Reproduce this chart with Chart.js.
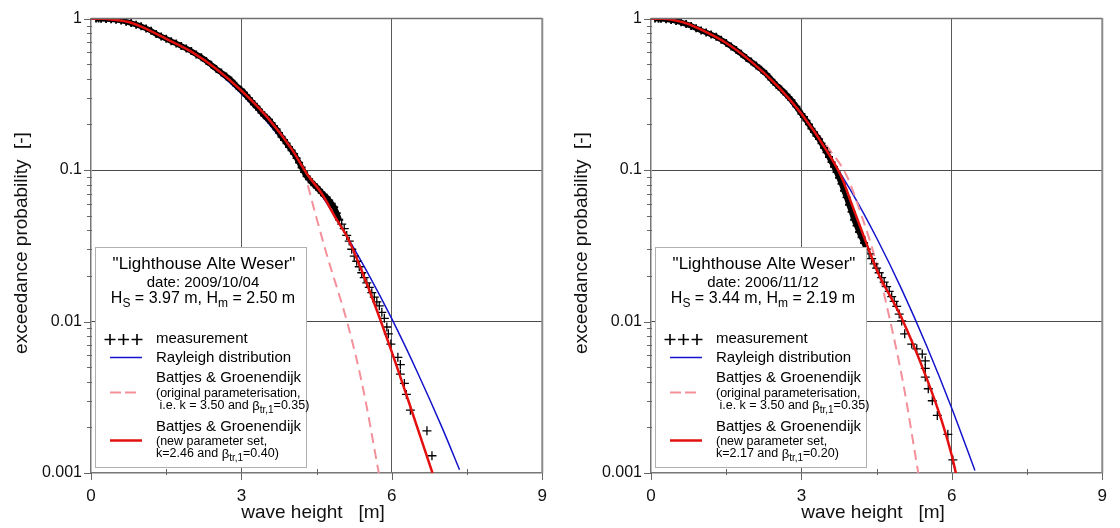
<!DOCTYPE html>
<html><head><meta charset="utf-8">
<script src="https://cdn.jsdelivr.net/npm/chart.js@4.4.1/dist/chart.umd.min.js"></script>
<style>
html,body{margin:0;padding:0;background:#fff;}
#wrap{display:flex;width:1120px;height:528px;}
.cell{width:560px;height:528px;position:relative;}
canvas{display:block;}
</style></head><body>
<div id="wrap"><div class="cell"><canvas id="c1" width="560" height="528"></canvas></div><div class="cell"><canvas id="c2" width="560" height="528"></canvas></div></div>
<script>
const FONT = "'Liberation Sans', Arial, sans-serif";

// ---- axis ticks ----
const xTickValues = [0, 3, 6, 9];
const xTickLabels = ['0', '3', '6', '9'];
const xMinorTicks = [1.5, 4.5, 7.5];
const yTickValues = [0.001, 0.01, 0.1, 1];
const yTickLabels = ['0.001', '0.01', '0.1', '1'];
const yMinorTicks = [0.002,0.003,0.004,0.005,0.006,0.007,0.008,0.009,0.02,0.03,0.04,0.05,0.06,0.07,0.08,0.09,0.2,0.3,0.4,0.5,0.6,0.7,0.8,0.9];
const xTitle = 'wave height   [m]';
const yTitle = 'exceedance probability  [-]';

// ---- panel texts ----
const panelStation = ['"Lighthouse Alte Weser"', '"Lighthouse Alte Weser"'];
const panelDate = ['date: 2009/10/04', 'date: 2006/11/12'];
const panelHs = ['3.97', '3.44'];
const panelHm = ['2.50', '2.19'];
const panelK = ['2.46', '2.17'];
const panelBeta = ['0.40', '0.20'];
const origK = '3.50';
const origBeta = '0.35';

// ---- left panel (2009/10/04) ----
const leftMeasH = [0.10,0.15,0.20,0.30,0.40,0.50,0.60,0.70,0.80,0.90,1.00,1.10,1.20,1.30,1.40,1.50,1.60,1.70,1.80,1.90,2.00,2.10,2.20,2.30,2.40,2.50,2.60,2.70,2.80,2.90,3.00,3.05,3.10,3.15,3.20,3.25,3.30,3.35,3.40,3.45,3.50,3.55,3.60,3.65,3.70,3.75,3.80,3.85,3.90,3.95,4.00,4.05,4.10,4.15,4.20,4.25,4.30,4.35,4.40,4.45,4.50,4.55,4.60,4.65,4.70,4.75,4.80,4.85,4.90,4.95];
const leftMeasP = [1.0,1.0,0.998,0.995,0.99,0.983,0.972,0.955,0.935,0.912,0.89,0.86,0.83,0.79,0.762,0.735,0.71,0.685,0.66,0.635,0.61,0.58,0.555,0.525,0.495,0.465,0.44,0.415,0.39,0.36,0.336,0.325,0.31,0.298,0.285,0.272,0.262,0.251,0.24,0.23,0.222,0.215,0.205,0.195,0.186,0.176,0.166,0.158,0.15,0.142,0.135,0.128,0.12,0.112,0.104,0.097,0.091,0.087,0.083,0.08,0.077,0.074,0.071,0.068,0.066,0.063,0.06,0.057,0.052,0.047];
const leftTailH = [5.00,5.05,5.10,5.15,5.20,5.25,5.30,5.35,5.40,5.45,5.50,5.55,5.60,5.65,5.70,5.75,5.80,5.85,5.90,5.93,5.98,6.12,6.17,6.17,6.25,6.29,6.37,6.70,6.80];
const leftTailP = [0.044,0.041,0.037,0.034,0.030,0.027,0.025,0.023,0.021,0.0195,0.018,0.0168,0.0155,0.0145,0.0135,0.0127,0.0115,0.0105,0.0092,0.0083,0.0071,0.0058,0.0052,0.0045,0.0039,0.0033,0.0026,0.0019,0.0013];
const leftRayH = [0,0.5,1,1.5,2,2.5,3,3.5,4,4.5,5,5.5,6,6.5,7,7.35];
const leftRayP = [1,0.969,0.881,0.752,0.602,0.452,0.319,0.211,0.131,0.0766,0.0419,0.0215,0.0104,0.0047,0.002,0.00105];
const leftOrigH = [0,0.25,0.5,0.75,1,1.5,2,2.5,3,3.5,4,4.24,4.47,4.7,5.12,5.42,5.74];
const leftOrigP = [1,0.997,0.98,0.95,0.885,0.735,0.605,0.465,0.335,0.226,0.136,0.098,0.052,0.0278,0.0096,0.0037,0.001];
const leftNewH = [0,0.25,0.5,0.75,1,1.5,2,2.5,3,3.5,4,4.3,4.6,4.9,5.12,5.48,5.97,6.33,6.81];
const leftNewP = [1,0.997,0.98,0.95,0.885,0.735,0.605,0.465,0.335,0.226,0.138,0.095,0.07,0.047,0.0356,0.0185,0.0067,0.003,0.001];

// ---- right panel (2006/11/12) ----
const rightMeasH = [0.08,0.15,0.20,0.30,0.40,0.50,0.60,0.70,0.80,0.90,1.00,1.10,1.20,1.30,1.40,1.50,1.60,1.70,1.80,1.90,2.00,2.10,2.20,2.30,2.40,2.50,2.60,2.70,2.80,2.90,3.00,3.05,3.10,3.15,3.20,3.25,3.30,3.35,3.40,3.45,3.50,3.55,3.60,3.65,3.70,3.75,3.80,3.85,3.90,3.95,4.00,4.05,4.10,4.15,4.20,4.25,4.30];
const rightMeasP = [1.0,0.998,0.996,0.99,0.98,0.965,0.945,0.92,0.895,0.865,0.835,0.81,0.785,0.76,0.725,0.69,0.655,0.62,0.585,0.55,0.52,0.49,0.46,0.43,0.395,0.365,0.34,0.315,0.29,0.262,0.235,0.224,0.212,0.2,0.188,0.178,0.168,0.16,0.15,0.14,0.131,0.122,0.113,0.105,0.097,0.089,0.081,0.073,0.066,0.059,0.053,0.047,0.043,0.039,0.036,0.033,0.03];
const rightTailH = [4.35,4.40,4.45,4.50,4.55,4.60,4.65,4.70,4.75,4.80,4.85,4.90,4.95,5.00,5.06,5.20,5.30,5.41,5.47,5.47,5.47,5.53,5.61,5.71,5.92,6.02];
const rightTailP = [0.028,0.026,0.024,0.0225,0.021,0.0195,0.0182,0.017,0.0158,0.0146,0.0136,0.0126,0.0112,0.0101,0.0083,0.0071,0.0066,0.0061,0.0055,0.0049,0.0043,0.0036,0.0030,0.0024,0.0018,0.00122];
const rightRayH = [0,0.5,1,1.5,2,2.5,3,3.5,4,4.5,5,5.5,6,6.46];
const rightRayP = [1,0.96,0.848,0.69,0.518,0.357,0.227,0.133,0.0718,0.0356,0.0163,0.00687,0.00267,0.00104];
const rightOrigH = [0,0.25,0.5,0.75,1,1.5,2,2.5,3,3.5,3.9,4.2,4.5,4.77,5.03,5.33];
const rightOrigP = [1,0.996,0.97,0.92,0.845,0.69,0.52,0.365,0.24,0.145,0.092,0.05,0.024,0.0101,0.0039,0.001];
const rightNewH = [0,0.25,0.5,0.75,1,1.5,2,2.5,3,3.5,3.8,4.0,4.2,4.5,5.0,5.5,5.8,6.0,6.08];
const rightNewP = [1,0.996,0.97,0.92,0.845,0.69,0.52,0.365,0.235,0.135,0.09,0.06,0.04,0.022,0.0105,0.0042,0.0022,0.0013,0.001];

const pts = (hs, ps) => hs.map((h, i) => ({x: h, y: ps[i]}));

const COL_BLUE = '#1414cc';
const COL_PINK = '#f4909a';
const COL_RED = '#e31010';

function rich(ctx, parts, x, y, align) {
  let total = 0;
  parts.forEach(p => { ctx.font = p.s + 'px ' + FONT; p.w = ctx.measureText(p.t).width; total += p.w; });
  let cx = align === 'center' ? x - total / 2 : x;
  ctx.textAlign = 'left';
  parts.forEach(p => { ctx.font = p.s + 'px ' + FONT; ctx.fillText(p.t, cx, y + (p.dy || 0)); cx += p.w; });
}

function drawBox(ctx, i) {
  const bx = 95.5, by = 247.5, bw = 211, bh = 220;
  ctx.fillStyle = '#fff'; ctx.fillRect(bx, by, bw, bh);
  ctx.strokeStyle = '#b0b0b0'; ctx.lineWidth = 1; ctx.setLineDash([]); ctx.strokeRect(bx, by, bw, bh);
  ctx.fillStyle = '#000'; ctx.textBaseline = 'middle';
  ctx.textAlign = 'center';
  ctx.font = '17px ' + FONT; ctx.fillText(panelStation[i], 204, 264);
  ctx.font = '15px ' + FONT; ctx.fillText(panelDate[i], 203, 283);
  rich(ctx, [{t:'H', s:16}, {t:'S', s:12, dy:5}, {t:' = ' + panelHs[i] + ' m, H', s:16}, {t:'m', s:12, dy:5}, {t:' = ' + panelHm[i] + ' m', s:16}], 203, 299, 'center');
  // measurement symbol
  ctx.strokeStyle = '#000'; ctx.lineWidth = 1.6;
  [110, 123.5, 137].forEach(cx => {
    ctx.beginPath(); ctx.moveTo(cx - 5.5, 339.5); ctx.lineTo(cx + 5.5, 339.5);
    ctx.moveTo(cx, 334); ctx.lineTo(cx, 345); ctx.stroke();
  });
  ctx.textAlign = 'left';
  ctx.font = '15px ' + FONT; ctx.fillText('measurement', 156, 339);
  ctx.strokeStyle = COL_BLUE; ctx.lineWidth = 1.5;
  ctx.beginPath(); ctx.moveTo(110, 357.5); ctx.lineTo(142, 357.5); ctx.stroke();
  ctx.fillText('Rayleigh distribution', 156, 358);
  ctx.fillText('Battjes & Groenendijk', 156, 378);
  ctx.strokeStyle = COL_PINK; ctx.lineWidth = 2; ctx.setLineDash([11, 4]);
  ctx.beginPath(); ctx.moveTo(110, 392.5); ctx.lineTo(136, 392.5); ctx.stroke();
  ctx.setLineDash([]);
  ctx.font = '12.5px ' + FONT; ctx.fillText('(original parameterisation,', 156, 394);
  rich(ctx, [{t:' i.e. k = ' + origK + ' and ', s:12.5}, {t:'β', s:13}, {t:'tr,1', s:10, dy:4}, {t:'=' + origBeta + ')', s:12.5}], 156, 406, 'left');
  ctx.font = '15px ' + FONT; ctx.fillText('Battjes & Groenendijk', 156, 427);
  ctx.strokeStyle = COL_RED; ctx.lineWidth = 2.5;
  ctx.beginPath(); ctx.moveTo(110, 440.5); ctx.lineTo(142, 440.5); ctx.stroke();
  ctx.font = '12.5px ' + FONT; ctx.fillText('(new parameter set,', 156, 442);
  rich(ctx, [{t:'k=' + panelK[i] + ' and ', s:12.5}, {t:'β', s:13}, {t:'tr,1', s:10, dy:4}, {t:'=' + panelBeta[i] + ')', s:12.5}], 156, 454, 'left');
}

const decor = {
  id: 'decor',
  afterDraw(chart, args, opts) {
    const {ctx, chartArea: a, scales: {x, y}} = chart;
    ctx.save();
    // frame top/right
    ctx.strokeStyle = '#707070'; ctx.lineWidth = 1.5;
    ctx.beginPath(); ctx.moveTo(a.left, a.top); ctx.lineTo(a.right, a.top); ctx.stroke();
    ctx.strokeStyle = '#8a8a8a'; ctx.lineWidth = 2;
    ctx.beginPath(); ctx.moveTo(a.right, a.top - 0.5); ctx.lineTo(a.right, a.bottom); ctx.stroke();
    // tick marks
    ctx.strokeStyle = '#666'; ctx.lineWidth = 1;
    ctx.beginPath();
    yTickValues.forEach(v => { const py = Math.round(y.getPixelForValue(v)) + 0.5; ctx.moveTo(a.left - 7, py); ctx.lineTo(a.left, py); });
    yMinorTicks.forEach(v => { const py = Math.round(y.getPixelForValue(v)) + 0.5; ctx.moveTo(a.left - 4, py); ctx.lineTo(a.left + 1, py); });
    xTickValues.forEach(v => { const px = Math.round(x.getPixelForValue(v)) + 0.5; ctx.moveTo(px, a.bottom); ctx.lineTo(px, a.bottom + 7); });
    xMinorTicks.forEach(v => { const px = Math.round(x.getPixelForValue(v)) + 0.5; ctx.moveTo(px, a.bottom - 4); ctx.lineTo(px, a.bottom + 2); });
    ctx.stroke();
    // axis titles
    ctx.fillStyle = '#111'; ctx.textBaseline = 'middle'; ctx.textAlign = 'center';
    ctx.font = '19px ' + FONT;
    ctx.fillText(xTitle, 313, 513);
    ctx.save(); ctx.translate(22, 243); ctx.rotate(-Math.PI / 2); ctx.fillText(yTitle, 0, 0); ctx.restore();
    drawBox(ctx, opts.panel);
    ctx.restore();
  }
};

function makeChart(id, panel, meas, tail, ray, orig, nw) {
  return new Chart(document.getElementById(id), {
    type: 'scatter',
    data: {
      datasets: [
        {data: nw, showLine: true, borderColor: COL_RED, borderWidth: 2.5, pointRadius: 0, cubicInterpolationMode: 'monotone'},
        {data: tail, showLine: false, pointStyle: 'cross', pointRadius: 4.5, pointBorderWidth: 1.3, pointBorderColor: '#000', pointBackgroundColor: '#000'},
        {data: meas, showLine: true, borderColor: '#000', borderWidth: 5.5, pointStyle: 'cross', pointRadius: 4, pointBorderWidth: 1.8, pointBorderColor: '#000', pointBackgroundColor: '#000'},
        {data: orig, showLine: true, borderColor: COL_PINK, borderWidth: 2, borderDash: [10, 6], pointRadius: 0, cubicInterpolationMode: 'monotone'},
        {data: ray, showLine: true, borderColor: COL_BLUE, borderWidth: 1.5, pointRadius: 0, cubicInterpolationMode: 'monotone'}
      ]
    },
    options: {
      responsive: false, animation: false, devicePixelRatio: 1, events: [],
      layout: {padding: {top: 16, right: 12, left: 0, bottom: 0}},
      plugins: {legend: {display: false}, tooltip: {enabled: false}, decor: {panel: panel}},
      scales: {
        x: {
          type: 'linear', min: 0, max: 9,
          afterBuildTicks: s => { s.ticks = xTickValues.map(v => ({value: v})); },
          afterFit: s => { s.height = 55; },
          ticks: {callback: (v, i) => xTickLabels[i], padding: 13, color: '#111', font: {family: FONT, size: 17}, maxRotation: 0},
          grid: {drawTicks: false, color: c => (c.tick && (c.tick.value === 3 || c.tick.value === 6)) ? '#5a5a5a' : 'rgba(0,0,0,0)', lineWidth: 1},
          border: {display: true, color: '#777', width: 1.5}
        },
        y: {
          type: 'logarithmic', min: 0.001, max: 1,
          afterBuildTicks: s => { s.ticks = yTickValues.map(v => ({value: v})); },
          afterFit: s => { s.width = 91; },
          ticks: {callback: (v, i) => yTickLabels[i], padding: 9, color: '#111', font: {family: FONT, size: 16}},
          grid: {drawTicks: false, color: c => (c.tick && (Math.abs(c.tick.value - 0.1) < 1e-9 || Math.abs(c.tick.value - 0.01) < 1e-9)) ? '#4a4a4a' : 'rgba(0,0,0,0)', lineWidth: 1},
          border: {display: true, color: '#777', width: 1.5}
        }
      }
    },
    plugins: [decor]
  });
}

makeChart('c1', 0, pts(leftMeasH, leftMeasP), pts(leftTailH, leftTailP), pts(leftRayH, leftRayP), pts(leftOrigH, leftOrigP), pts(leftNewH, leftNewP));
makeChart('c2', 1, pts(rightMeasH, rightMeasP), pts(rightTailH, rightTailP), pts(rightRayH, rightRayP), pts(rightOrigH, rightOrigP), pts(rightNewH, rightNewP));
</script>
</body></html>
